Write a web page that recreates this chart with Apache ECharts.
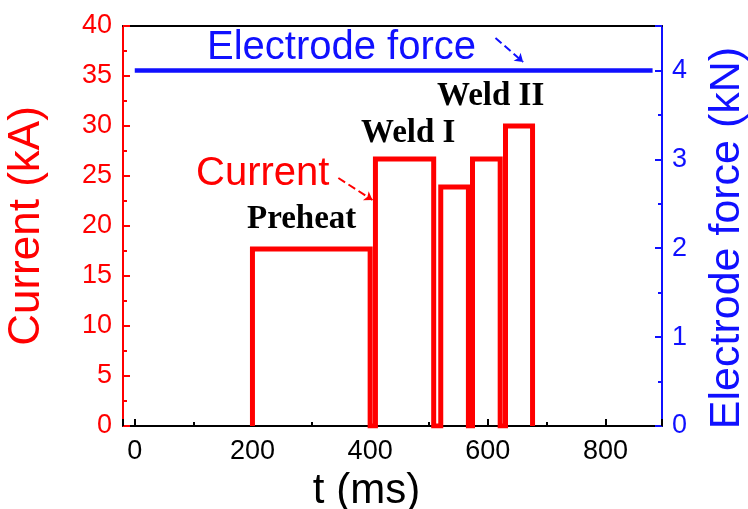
<!DOCTYPE html>
<html>
<head>
<meta charset="utf-8">
<style>
  html, body { margin: 0; padding: 0; background: #fff; }
  #chart { width: 748px; height: 509px; }
</style>
<script src="https://cdn.jsdelivr.net/npm/echarts@6/dist/echarts.min.js"></script>
</head>
<body>
<div id="chart"></div>
<script>
// welding schedule: current pulses (t in ms, kA)
var currentT = [200, 200, 400, 400, 409, 409, 508, 508, 520, 520, 567, 567, 574, 574, 621, 621, 630, 630, 676, 676]
var currentI = [0, 17.7, 17.7, 0, 0, 26.7, 26.7, 0, 0, 23.9, 23.9, 0, 0, 26.7, 26.7, 0, 0, 30, 30, 0]
// electrode force (kN)
var forceT = [0, 880]
var forceF = [4, 4]

var RED = '#ff0000'
var BLUE = '#1010ff'
var FONT = 'Liberation Sans, Arial, sans-serif'
var SERIF = 'Liberation Serif, Times New Roman, serif'

var currentData = currentT.map(function (t, i) { return [t, currentI[i]] })
var forceData = forceT.map(function (t, i) { return [t, forceF[i]] })

var chart = echarts.init(document.getElementById('chart'))

var option = {
  animation: false,
  backgroundColor: '#fff',
  grid: { left: 123, right: 86, top: 26, bottom: 83, outerBoundsMode: 'none', containLabel: false },
  xAxis: [{
    type: 'value',
    min: -20,
    max: 896,
    splitNumber: 5,
    name: 't (ms)',
    nameLocation: 'middle',
    nameGap: 44,
    nameTextStyle: { color: '#000', fontSize: 42, fontFamily: FONT, padding: [0, 52, 0, 0] },
    axisLine: { onZero: false, lineStyle: { color: '#000', width: 2 } },
    axisTick: { inside: true, length: 7, lineStyle: { color: '#000', width: 2 } },
    minorTick: { show: true, splitNumber: 2, length: 4, lineStyle: { color: '#000', width: 2 } },
    axisLabel: { color: '#000', fontSize: 27, fontFamily: FONT, margin: 12, showMinLabel: false, showMaxLabel: false },
    splitLine: { show: false }
  }, {
    type: 'value',
    position: 'top',
    min: -20,
    max: 896,
    axisLine: { onZero: false, lineStyle: { color: '#000', width: 2 } },
    axisTick: { show: false },
    axisLabel: { show: false },
    splitLine: { show: false }
  }],
  yAxis: [{
    type: 'value',
    min: 0,
    max: 40,
    interval: 5,
    name: 'Current (kA)',
    nameLocation: 'middle',
    nameGap: 74,
    nameTextStyle: { color: RED, fontSize: 44, fontFamily: FONT },
    axisLine: { show: true, onZero: false, lineStyle: { color: RED, width: 2 } },
    axisTick: { inside: true, length: 7, lineStyle: { color: RED, width: 2 } },
    minorTick: { show: true, splitNumber: 2, length: 4, lineStyle: { color: RED, width: 2 } },
    axisLabel: { color: RED, fontSize: 27, fontFamily: FONT, margin: 11 },
    splitLine: { show: false }
  }, {
    type: 'value',
    position: 'right',
    min: 0,
    max: 4.5,
    interval: 1,
    axisLine: { show: true, onZero: false, lineStyle: { color: BLUE, width: 2 } },
    axisTick: { inside: true, length: 7, lineStyle: { color: BLUE, width: 2 } },
    minorTick: { show: true, splitNumber: 2, length: 4, lineStyle: { color: BLUE, width: 2 } },
    axisLabel: { color: BLUE, fontSize: 27, fontFamily: FONT, margin: 10, showMaxLabel: false },
    splitLine: { show: false }
  }],
  series: [{
    name: 'Current',
    type: 'line',
    xAxisIndex: 0,
    yAxisIndex: 0,
    data: currentData,
    symbol: 'none',
    lineStyle: { color: RED, width: 5, join: 'miter' },
    markLine: {
      silent: true,
      symbol: ['none', 'arrow'],
      symbolSize: 8,
      label: { show: false },
      data: [
        [{ coord: [346, 24.8], lineStyle: { color: RED, width: 2, type: 'dashed' } }, { coord: [404, 22.6] }],
        [{ coord: [613, 38.8], lineStyle: { color: BLUE, width: 2, type: 'dashed' } }, { coord: [660, 36.4] }]
      ]
    }
  }, {
    name: 'Electrode force',
    type: 'line',
    xAxisIndex: 0,
    yAxisIndex: 1,
    data: forceData,
    symbol: 'none',
    lineStyle: { color: BLUE, width: 4.5 }
  }],
  graphic: [
    // right axis title, sits a little below the axis centre like the original
    {
      type: 'text', x: 727, y: 238, rotation: Math.PI / 2,
      style: { text: 'Electrode force (kN)', fill: BLUE, font: '43px ' + FONT, align: 'center', verticalAlign: 'middle' }
    },
    { type: 'text', left: 207, top: 28, style: { text: 'Electrode force', fill: BLUE, font: '40px ' + FONT } },
    { type: 'text', left: 196, top: 154, style: { text: 'Current', fill: RED, font: '40px ' + FONT } },
    { type: 'text', left: 247, top: 203, style: { text: 'Preheat', fill: '#000', font: 'bold 33px ' + SERIF } },
    { type: 'text', left: 361, top: 117, style: { text: 'Weld I', fill: '#000', font: 'bold 33px ' + SERIF } },
    { type: 'text', left: 437, top: 80, style: { text: 'Weld II', fill: '#000', font: 'bold 33px ' + SERIF } }
  ]
}

chart.setOption(option)
</script>
</body>
</html>
